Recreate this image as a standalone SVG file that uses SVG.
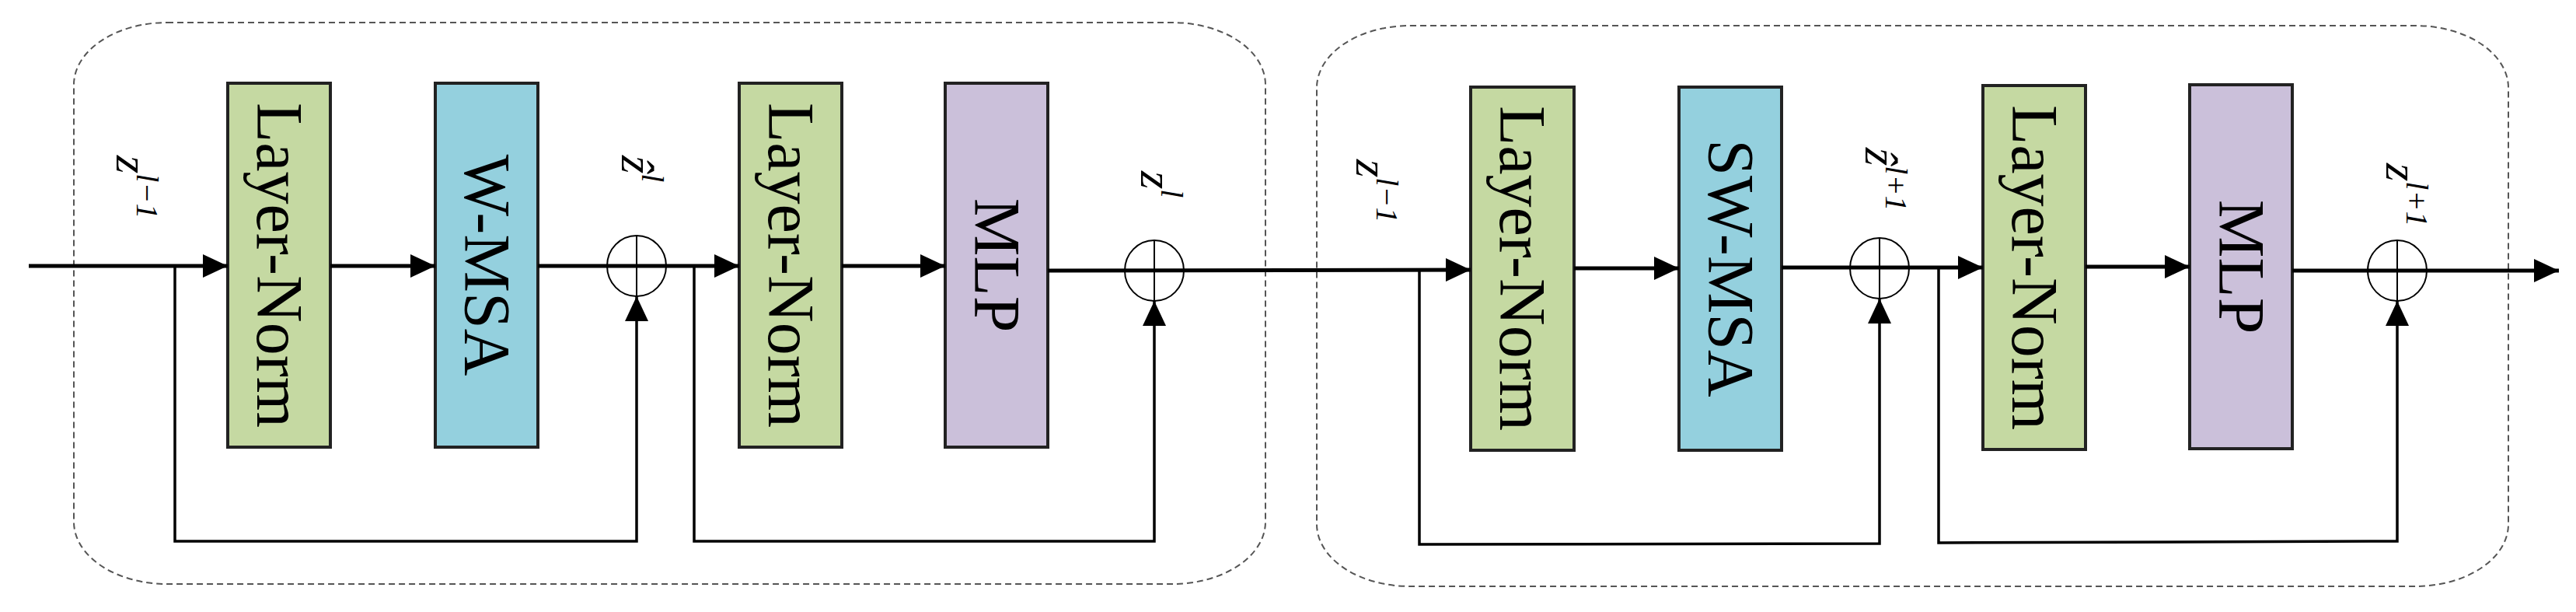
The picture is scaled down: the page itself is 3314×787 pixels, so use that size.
<svg xmlns="http://www.w3.org/2000/svg" width="3314" height="787" viewBox="0 0 3314 787">
<style>
.frame{fill:none;stroke:#555;stroke-width:2;stroke-dasharray:8 5}
.box{stroke:#222;stroke-width:4}
.ln{fill:#c5d9a2}.msa{fill:#94d0de}.mlp{fill:#cbc0da}
.bt{font-family:"Liberation Serif",serif;font-size:84px;fill:#000;text-anchor:middle;dominant-baseline:central}
.lab{font-family:"Liberation Serif",serif;font-style:italic;font-size:60px;fill:#000}
.w{fill:none;stroke:#000;stroke-width:5}
.f{fill:none;stroke:#000;stroke-width:3.5}
.pl{fill:none;stroke:#000;stroke-width:2}
</style>
<defs>
<marker id="ar" markerWidth="10" markerHeight="10" refX="9" refY="5" orient="auto" markerUnits="userSpaceOnUse" viewBox="0 0 10 10" style="overflow:visible">
<path d="M0,0 L10,5 L0,10 Z" fill="#000" transform="scale(1)"/>
</marker>
<marker id="a" viewBox="0 0 32 30" refX="32" refY="15" markerWidth="32" markerHeight="30" orient="auto" markerUnits="userSpaceOnUse"><path d="M0,0 L32,15 L0,30 Z" fill="#000"/></marker>
</defs>
<rect class="frame" x="95" y="29" width="1533" height="722" rx="120" ry="80"/>
<rect class="frame" x="1694" y="33" width="1533" height="721" rx="120" ry="80"/>
<g id="ln1"><rect class="box ln" x="293" y="107" width="132" height="468"/><text class="bt" transform="translate(359,341) rotate(90)">Layer-Norm</text></g>
<g id="wmsa"><rect class="box msa" x="560" y="107" width="132" height="468"/><text class="bt" transform="translate(626,341) rotate(90)">W-MSA</text></g>
<g id="ln2"><rect class="box ln" x="951" y="107" width="132" height="468"/><text class="bt" transform="translate(1017,341) rotate(90)">Layer-Norm</text></g>
<g id="mlp1"><rect class="box mlp" x="1216" y="107" width="132" height="468"/><text class="bt" transform="translate(1282,341) rotate(90)">MLP</text></g>
<g id="ln3"><rect class="box ln" x="1892" y="112" width="133" height="467"/><text class="bt" transform="translate(1958,345) rotate(90)">Layer-Norm</text></g>
<g id="swmsa"><rect class="box msa" x="2160" y="112" width="132" height="467"/><text class="bt" transform="translate(2226,345) rotate(90)">SW-MSA</text></g>
<g id="ln4"><rect class="box ln" x="2551" y="110" width="132" height="468"/><text class="bt" transform="translate(2617,344) rotate(90)">Layer-Norm</text></g>
<g id="mlp2"><rect class="box mlp" x="2817" y="109" width="132" height="468"/><text class="bt" transform="translate(2883,343) rotate(90)">MLP</text></g>
<g id="add1"><ellipse class="pl" cx="819" cy="342" rx="38" ry="39"/><line class="pl" x1="819" y1="303" x2="819" y2="381"/></g>
<g id="add2"><ellipse class="pl" cx="1485" cy="348" rx="38" ry="39"/><line class="pl" x1="1485" y1="309" x2="1485" y2="387"/></g>
<g id="add3"><ellipse class="pl" cx="2418" cy="345" rx="38" ry="39"/><line class="pl" x1="2418" y1="306" x2="2418" y2="384"/></g>
<g id="add4"><ellipse class="pl" cx="3084" cy="348" rx="38" ry="39"/><line class="pl" x1="3084" y1="309" x2="3084" y2="387"/></g>
<g id="labels">
<text class="lab" transform="translate(150,200) rotate(90)">z<tspan font-size="40" dy="-26">l−1</tspan></text>
<text class="lab" transform="translate(800,200) rotate(90)">ẑ<tspan font-size="40" dy="-26">l</tspan></text>
<text class="lab" transform="translate(1468,220) rotate(90)">z<tspan font-size="40" dy="-26">l</tspan></text>
<text class="lab" transform="translate(1745,205) rotate(90)">z<tspan font-size="40" dy="-26">l−1</tspan></text>
<text class="lab" transform="translate(2400,190) rotate(90)">ẑ<tspan font-size="40" dy="-26">l+1</tspan></text>
<text class="lab" transform="translate(3070,210) rotate(90)">z<tspan font-size="40" dy="-26">l+1</tspan></text>
</g>
<g id="connectors">
<line class="w" x1="37" y1="342" x2="293" y2="342" marker-end="url(#a)"/>
<line class="w" x1="425" y1="342" x2="560" y2="342" marker-end="url(#a)"/>
<line class="w" x1="692" y1="342" x2="951" y2="342" marker-end="url(#a)"/>
<line class="w" x1="1083" y1="342" x2="1216" y2="342" marker-end="url(#a)"/>
<polyline class="f" points="225,342 225,696 819,696 819,381" marker-end="url(#a)"/>
<polyline class="f" points="893,342 893,696 1485,696 1485,387" marker-end="url(#a)"/>
<line class="w" x1="1348" y1="348" x2="1892" y2="347" marker-end="url(#a)"/>
<line class="w" x1="2025" y1="345" x2="2160" y2="345" marker-end="url(#a)"/>
<line class="w" x1="2292" y1="344" x2="2551" y2="344" marker-end="url(#a)"/>
<line class="w" x1="2683" y1="343" x2="2817" y2="343" marker-end="url(#a)"/>
<line class="w" x1="2949" y1="348" x2="3292" y2="348" marker-end="url(#a)"/>
<polyline class="f" points="1826,347 1826,700 2418,699 2418,384" marker-end="url(#a)"/>
<polyline class="f" points="2494,344 2494,698 3084,696 3084,387" marker-end="url(#a)"/>
</g>
</svg>
